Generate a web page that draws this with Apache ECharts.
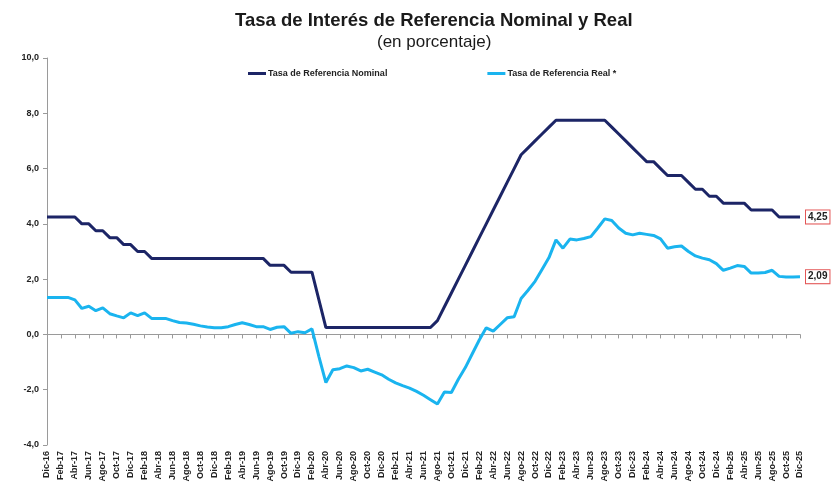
<!DOCTYPE html>
<html>
<head>
<meta charset="utf-8">
<title>Tasa de Interés de Referencia Nominal y Real</title>
<script src="https://cdn.jsdelivr.net/npm/echarts@6/dist/echarts.min.js"></script>
<style>
  html, body { margin: 0; padding: 0; background: #fff; }
  #chart { width: 834px; height: 488px; }
</style>
</head>
<body>
<div id="chart"></div>
<script>
// monthly categories Dic-16 .. Dic-25
const months = [
  'Dic-16',
  'Ene-17', 'Feb-17', 'Mar-17', 'Abr-17', 'May-17', 'Jun-17', 'Jul-17', 'Ago-17', 'Sep-17', 'Oct-17', 'Nov-17', 'Dic-17',
  'Ene-18', 'Feb-18', 'Mar-18', 'Abr-18', 'May-18', 'Jun-18', 'Jul-18', 'Ago-18', 'Sep-18', 'Oct-18', 'Nov-18', 'Dic-18',
  'Ene-19', 'Feb-19', 'Mar-19', 'Abr-19', 'May-19', 'Jun-19', 'Jul-19', 'Ago-19', 'Sep-19', 'Oct-19', 'Nov-19', 'Dic-19',
  'Ene-20', 'Feb-20', 'Mar-20', 'Abr-20', 'May-20', 'Jun-20', 'Jul-20', 'Ago-20', 'Sep-20', 'Oct-20', 'Nov-20', 'Dic-20',
  'Ene-21', 'Feb-21', 'Mar-21', 'Abr-21', 'May-21', 'Jun-21', 'Jul-21', 'Ago-21', 'Sep-21', 'Oct-21', 'Nov-21', 'Dic-21',
  'Ene-22', 'Feb-22', 'Mar-22', 'Abr-22', 'May-22', 'Jun-22', 'Jul-22', 'Ago-22', 'Sep-22', 'Oct-22', 'Nov-22', 'Dic-22',
  'Ene-23', 'Feb-23', 'Mar-23', 'Abr-23', 'May-23', 'Jun-23', 'Jul-23', 'Ago-23', 'Sep-23', 'Oct-23', 'Nov-23', 'Dic-23',
  'Ene-24', 'Feb-24', 'Mar-24', 'Abr-24', 'May-24', 'Jun-24', 'Jul-24', 'Ago-24', 'Sep-24', 'Oct-24', 'Nov-24', 'Dic-24',
  'Ene-25', 'Feb-25', 'Mar-25', 'Abr-25', 'May-25', 'Jun-25', 'Jul-25', 'Ago-25', 'Sep-25', 'Oct-25', 'Nov-25', 'Dic-25'
];

const nominal = [
  4.25,
  4.25, 4.25, 4.25, 4.25, 4.00, 4.00, 3.75, 3.75, 3.50, 3.50, 3.25, 3.25,
  3.00, 3.00, 2.75, 2.75, 2.75, 2.75, 2.75, 2.75, 2.75, 2.75, 2.75, 2.75,
  2.75, 2.75, 2.75, 2.75, 2.75, 2.75, 2.75, 2.50, 2.50, 2.50, 2.25, 2.25,
  2.25, 2.25, 1.25, 0.25, 0.25, 0.25, 0.25, 0.25, 0.25, 0.25, 0.25, 0.25,
  0.25, 0.25, 0.25, 0.25, 0.25, 0.25, 0.25, 0.50, 1.00, 1.50, 2.00, 2.50,
  3.00, 3.50, 4.00, 4.50, 5.00, 5.50, 6.00, 6.50, 6.75, 7.00, 7.25, 7.50,
  7.75, 7.75, 7.75, 7.75, 7.75, 7.75, 7.75, 7.75, 7.50, 7.25, 7.00, 6.75,
  6.50, 6.25, 6.25, 6.00, 5.75, 5.75, 5.75, 5.50, 5.25, 5.25, 5.00, 5.00,
  4.75, 4.75, 4.75, 4.75, 4.50, 4.50, 4.50, 4.50, 4.25, 4.25, 4.25, 4.25
];

const real = [
  1.34,
  1.34, 1.34, 1.34, 1.25, 0.94, 1.02, 0.86, 0.96, 0.75, 0.67, 0.60, 0.78,
  0.68, 0.78, 0.58, 0.58, 0.58, 0.50, 0.43, 0.41, 0.37, 0.31, 0.27, 0.24,
  0.24, 0.28, 0.36, 0.42, 0.36, 0.28, 0.28, 0.18, 0.26, 0.28, 0.04, 0.10,
  0.06, 0.20, -0.80, -1.74, -1.28, -1.24, -1.14, -1.20, -1.32, -1.26, -1.36, -1.46,
  -1.62, -1.75, -1.85, -1.94, -2.06, -2.20, -2.36, -2.52, -2.08, -2.10, -1.62, -1.20,
  -0.70, -0.20, 0.24, 0.12, 0.36, 0.60, 0.64, 1.30, 1.60, 1.92, 2.35, 2.78,
  3.42, 3.12, 3.45, 3.42, 3.47, 3.54, 3.85, 4.18, 4.12, 3.85, 3.66, 3.60,
  3.66, 3.62, 3.58, 3.46, 3.12, 3.17, 3.20, 3.00, 2.84, 2.76, 2.70, 2.56,
  2.32, 2.40, 2.49, 2.46, 2.22, 2.22, 2.24, 2.32, 2.10, 2.08, 2.08, 2.09
];

const yTicks = { min: -4, max: 10, step: 2 };

const FONT = "'Liberation Sans Narrow', 'Liberation Sans', Arial, sans-serif";
const NAVY = '#1c2566';
const SKY = '#1ab4ef';
const AXIS_GREY = '#9a9a9a';

const fmt = (v, d) => v.toFixed(d).replace('.', ',');

const chart = echarts.init(document.getElementById('chart'), null, { renderer: 'canvas' });

const endLabel = () => ({
  show: true,
  formatter: (p) => fmt(p.value, 2),
  distance: 6,
  fontFamily: FONT,
  fontSize: 10,
  fontWeight: 'bold',
  color: '#222',
  backgroundColor: '#fff',
  borderColor: '#e35555',
  borderWidth: 1,
  padding: [2, 2, 1, 2]
});

chart.setOption({
  animation: false,
  backgroundColor: '#fff',
  title: [
    {
      text: 'Tasa de Interés de Referencia Nominal y Real',
      left: 230,
      top: 6,
      textStyle: { fontFamily: FONT, fontSize: 18.5, fontWeight: 'bold', color: '#1a1a1a' }
    },
    {
      text: '(en porcentaje)',
      left: 372,
      top: 29,
      textStyle: { fontFamily: FONT, fontSize: 17, fontWeight: 'normal', color: '#1a1a1a' }
    }
  ],
  legend: {
    top: 64,
    left: 243,
    itemGap: 100,
    itemWidth: 18,
    itemHeight: 3,
    icon: 'rect',
    textStyle: { fontFamily: FONT, fontSize: 9, fontWeight: 'bold', color: '#222', padding: [0, 0, 0, -3] },
    data: ['Tasa de Referencia Nominal', 'Tasa de Referencia Real *']
  },
  grid: { left: 47, right: 34, top: 58, bottom: 43, containLabel: false },
  xAxis: [
    {
      type: 'category',
      data: months,
      boundaryGap: false,
      axisLine: { onZero: true, lineStyle: { color: AXIS_GREY, width: 1 } },
      axisTick: { show: true, interval: 1, length: 4, lineStyle: { color: AXIS_GREY } },
      axisLabel: { show: false },
      splitLine: { show: false }
    },
    {
      type: 'category',
      data: months,
      boundaryGap: false,
      position: 'bottom',
      axisLine: { show: false, onZero: false },
      axisTick: { show: false },
      axisLabel: {
        interval: 1,
        rotate: 90,
        margin: 6,
        fontFamily: FONT,
        fontSize: 9,
        fontWeight: 'bold',
        color: '#222'
      }
    }
  ],
  yAxis: {
    type: 'value',
    min: yTicks.min,
    max: yTicks.max,
    interval: yTicks.step,
    axisLine: { show: true, lineStyle: { color: AXIS_GREY } },
    axisTick: { show: true, length: 4, lineStyle: { color: AXIS_GREY } },
    axisLabel: {
      formatter: (v) => fmt(v, 1),
      margin: 8,
      fontFamily: FONT,
      fontSize: 9,
      fontWeight: 'bold',
      color: '#222'
    },
    splitLine: { show: false }
  },
  series: [
    {
      name: 'Tasa de Referencia Nominal',
      type: 'line',
      data: nominal,
      xAxisIndex: 0,
      symbol: 'none',
      color: NAVY,
      lineStyle: { width: 3, color: NAVY },
      endLabel: endLabel()
    },
    {
      name: 'Tasa de Referencia Real *',
      type: 'line',
      data: real,
      xAxisIndex: 0,
      symbol: 'none',
      color: SKY,
      lineStyle: { width: 3, color: SKY },
      endLabel: endLabel()
    }
  ]
});
</script>
</body>
</html>
